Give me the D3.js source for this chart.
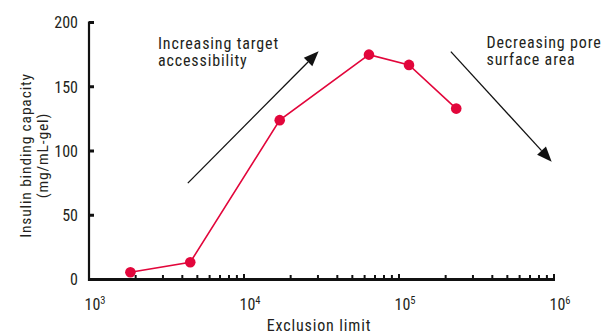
<!DOCTYPE html>
<html>
<head>
<meta charset="utf-8">
<script src="https://cdn.jsdelivr.net/npm/d3@7/dist/d3.min.js"></script>
<style>
  html, body { margin: 0; padding: 0; background: #fff; }
  svg { display: block; }
  text { font-family: "Liberation Sans Narrow", "Arial Narrow", "Roboto Condensed", sans-serif; fill: #231f20; }
  .words { letter-spacing: 0.85px; }
</style>
</head>
<body>
<svg id="chart" width="614" height="336"></svg>
<script>
// Exclusion limit of the gel (Da) and insulin binding capacity (mg/mL-gel)
const exclusionLimit = [1850, 4500, 17000, 64000, 116000, 234000];
const bindingCapacity = [5.6, 13.4, 124, 175, 167, 133];

const yTicks = [0, 50, 100, 150, 200];
const xMajorExponents = [3, 4, 5, 6];

// Trend arrows: [x, y] start and end in data units
const arrowUp = [[4340, 75], [30300, 177.6]];
const arrowDown = [[216000, 177.3], [966000, 91.7]];
const noteUp = ["Increasing target", "accessibility"];
const noteDown = ["Decreasing pore", "surface area"];

const svg = d3.select("#chart");
const x = d3.scaleLog().domain([1e3, 1e6]).range([89, 554]);
const y = d3.scaleLinear().domain([0, 200]).range([279.5, 22.5]);

const ink = "#111";
const red = "#e2063b";

// Minor log ticks (2..9 per decade)
const minor = [];
for (let e = 3; e < 6; e++) for (let m = 2; m <= 9; m++) minor.push(m * Math.pow(10, e));

const xAxis = svg.append("g");
xAxis.selectAll("line.minor").data(minor).join("line")
  .attr("x1", d => x(d)).attr("x2", d => x(d))
  .attr("y1", y(0)).attr("y2", y(0) - 4.5)
  .attr("stroke", ink).attr("stroke-width", 2);
xAxis.selectAll("line.major").data(xMajorExponents.slice(1)).join("line")
  .attr("x1", d => x(Math.pow(10, d))).attr("x2", d => x(Math.pow(10, d)))
  .attr("y1", y(0)).attr("y2", y(0) - 5.5)
  .attr("stroke", ink).attr("stroke-width", 2);
xAxis.append("line")
  .attr("x1", x(1e3) - 1).attr("x2", x(1e6) + 1)
  .attr("y1", y(0)).attr("y2", y(0))
  .attr("stroke", ink).attr("stroke-width", 3);

const xLabels = xAxis.selectAll("text.tick").data(xMajorExponents).join("text")
  .attr("x", d => x(Math.pow(10, d)) - 4.5)
  .attr("y", 309.5)
  .attr("text-anchor", "start")
  .style("font-size", "16px");
xLabels.append("tspan").text("10");
xLabels.append("tspan").text(d => d).attr("dy", -6).style("font-size", "10.5px");

svg.append("text")
  .attr("class", "words")
  .attr("x", 319).attr("y", 331)
  .attr("text-anchor", "middle")
  .style("font-size", "16px")
  .text("Exclusion limit");

// Y axis
const yAxis = svg.append("g");
yAxis.append("line")
  .attr("x1", x(1e3)).attr("x2", x(1e3))
  .attr("y1", y(200) - 1).attr("y2", y(0) + 1.5)
  .attr("stroke", ink).attr("stroke-width", 2.2);
yAxis.selectAll("line.tick").data(yTicks).join("line")
  .attr("x1", x(1e3)).attr("x2", x(1e3) + 5)
  .attr("y1", d => y(d)).attr("y2", d => y(d))
  .attr("stroke", ink).attr("stroke-width", 3);
yAxis.selectAll("text.tick").data(yTicks).join("text")
  .attr("x", 78).attr("y", d => y(d) + 5.8)
  .attr("text-anchor", "end")
  .style("font-size", "16px")
  .text(d => d);

svg.append("text")
  .attr("class", "words")
  .attr("transform", "translate(30.5,155.5) rotate(-90)")
  .attr("text-anchor", "middle")
  .style("font-size", "15.5px")
  .text("Insulin binding capacity");
svg.append("text")
  .attr("class", "words")
  .attr("transform", "translate(47.5,155.5) rotate(-90)")
  .attr("text-anchor", "middle")
  .style("font-size", "15.5px")
  .text("(mg/mL-gel)");

// Trend arrows
function arrow(pts) {
  const [p0, p1] = pts.map(([a, b]) => [x(a), y(b)]);
  const ang = Math.atan2(p1[1] - p0[1], p1[0] - p0[0]);
  const len = 15, half = 6;
  const bx = p1[0] - len * Math.cos(ang), by = p1[1] - len * Math.sin(ang);
  svg.append("line")
    .attr("x1", p0[0]).attr("y1", p0[1]).attr("x2", bx).attr("y2", by)
    .attr("stroke", ink).attr("stroke-width", 1.3);
  const nx = -Math.sin(ang), ny = Math.cos(ang);
  svg.append("path")
    .attr("d", `M${p1[0]},${p1[1]}L${bx + nx * half},${by + ny * half}L${bx - nx * half},${by - ny * half}Z`)
    .attr("fill", ink);
}
arrow(arrowUp);
arrow(arrowDown);

function note(lines, px, py) {
  const t = svg.append("text").attr("class", "words").attr("x", px).attr("y", py).style("font-size", "16px");
  lines.forEach((s, i) => t.append("tspan").attr("x", px).attr("dy", i ? 17.2 : 0).text(s));
}
note(noteUp, 158, 48.5);
note(noteDown, 486.5, 47.5);

// Data line and markers
const pts = exclusionLimit.map((v, i) => [v, bindingCapacity[i]]);
svg.append("path")
  .datum(pts)
  .attr("fill", "none")
  .attr("stroke", red)
  .attr("stroke-width", 1.6)
  .attr("d", d3.line().x(d => x(d[0])).y(d => y(d[1])));
svg.selectAll("circle.pt").data(pts).join("circle")
  .attr("cx", d => x(d[0])).attr("cy", d => y(d[1]))
  .attr("r", 5.3)
  .attr("fill", red);
</script>
</body>
</html>
